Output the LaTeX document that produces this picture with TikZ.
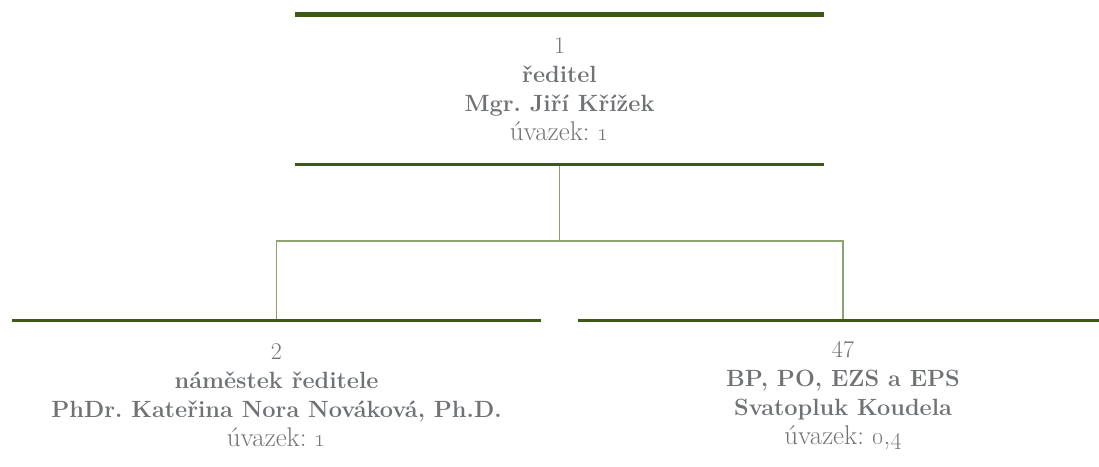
\documentclass[tikz,border=0pt]{standalone}
\usepackage{tikz}
\usetikzlibrary{positioning}
\definecolor{orggreen}{RGB}{61,90,20}
\definecolor{linkgreen}{RGB}{140,163,112}
\definecolor{txtgrey}{RGB}{112,115,118}
\newcommand{\unitname}[1]{{\fontsize{23.5}{29}\selectfont\bfseries #1}}
\newcommand{\unitload}[1]{{\fontsize{27}{29}\selectfont úvazek: #1}}
\frenchspacing

\begin{document}
\begin{tikzpicture}[x=1pt,y=1pt,
  unit/.style={minimum width=529pt, minimum height=149.5pt, inner sep=0pt,
    align=center, text=txtgrey, font=\fontsize{24}{29}\selectfont},
  thickrule/.style={orggreen, line width=5pt},
  thinrule/.style={orggreen, line width=3pt},
  link/.style={linkgreen, line width=1.5pt}]
\useasboundingbox (0,0) rectangle (1099,-466);
\node[unit] (dir) at (559.5,-89.25)
  {1\\ \unitname{ředitel}\\ \unitname{Mgr. Jiří Křížek}\\ \unitload{\oldstylenums{1}}};
\node[unit] (dep) at (276.5,-395.5)
  {2\\ \unitname{náměstek ředitele}\\ \unitname{PhDr. Kateřina Nora Nováková, Ph.D.}\\ \unitload{\oldstylenums{1}}};
\node[unit] (bp) at (843,-395.5)
  {47\\ \unitname{BP, PO, EZS a EPS}\\ \unitname{Svatopluk Koudela}\\ \unitload{\oldstylenums{0},\oldstylenums{4}}};
% connectors
\draw[link] (dir.south) -- ++(0,-77) coordinate (fork);
\draw[link] (fork) -| (dep.north);
\draw[link] (fork) -| (bp.north);
% rules
\draw[thickrule] (dir.north west) -- (dir.north east);
\draw[thinrule] (dir.south west) -- (dir.south east);
\draw[thinrule] (dep.north west) -- (dep.north east);
\draw[thinrule] (bp.north west) -- (bp.north east);
\end{tikzpicture}
\end{document}
